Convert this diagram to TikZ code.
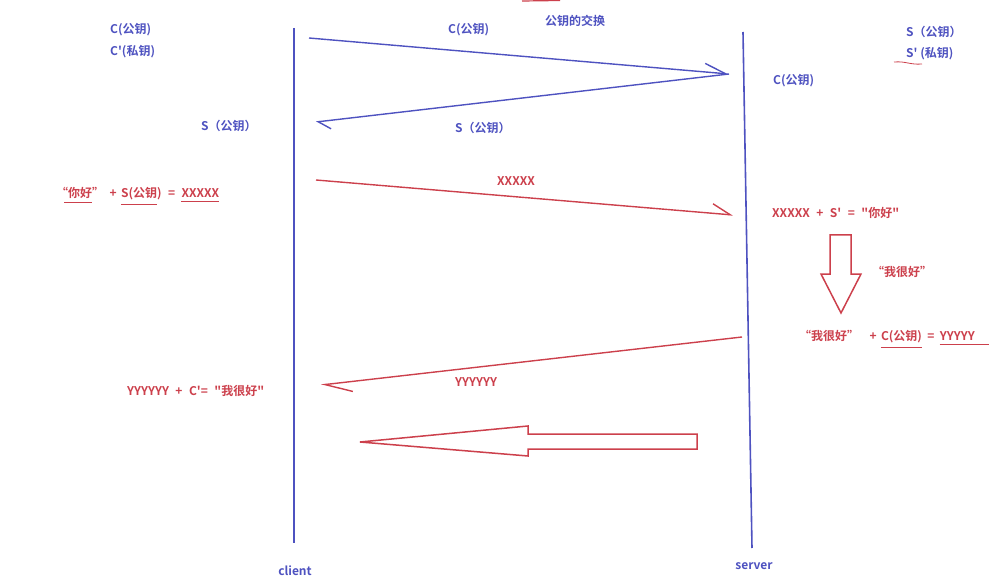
\documentclass[tikz,border=0pt]{standalone}
\usepackage{fontspec}
\setmainfont{Noto Sans CJK SC}[BoldFont={Noto Sans CJK SC Bold}, Ligatures=TeXOff]
\usepackage{xcolor}
\usetikzlibrary{arrows.meta, positioning}
\definecolor{keyblue}{RGB}{78,82,192}
\definecolor{msgred}{RGB}{204,64,76}

\begin{document}
\begin{tikzpicture}[x=1pt, y=-1pt, font=\fontsize{12}{14}\selectfont\bfseries,
    bluetxt/.style={text=keyblue, inner sep=0pt, anchor=west},
    redtxt/.style={text=msgred, inner sep=0pt, anchor=west},
    widegaps/.style={execute at begin node={\spaceskip=6.5pt\relax}},
    lifeline/.style={draw=keyblue, line width=1.6pt},
    bluemsg/.style={draw=keyblue, line width=1.4pt},
    redmsg/.style={draw=msgred, line width=1.4pt},
    uline/.style={draw=msgred, line width=0.8pt},
    fatarrow/.style={draw=msgred, line width=1.5pt, line join=miter}]
    \useasboundingbox (0,0) rectangle (989,583);

    \coordinate (ctop) at (294,28);
    \coordinate (cbot) at (294,543);
    \coordinate (stop) at (743,32);
    \coordinate (sbot) at (752,548);
    \draw [lifeline] (ctop) -- (cbot);
    \draw [lifeline] (stop) -- (sbot);
    \node [text=keyblue] (client) at (295,571) {client};
    \node [text=keyblue] (server) at (754,566) {server};

    \node [bluetxt] (cpub) at (110,30) {C(公钥)};
    \node [bluetxt, below=9pt of cpub.south west, anchor=north west] (cpriv) {C'(私钥)};
    \node [bluetxt] (title) at (545,21) {公钥的交换};
    \draw [msgred, line width=1.2pt] (522,1) -- (560,0.5);
    \node [bluetxt] (cpubmsg) at (448,30) {C(公钥)};
    \node [bluetxt] (spub) at (906,32) {S（公钥）};
    \node [bluetxt] (spriv) at (906,54) {S' (私钥)};
    \draw [uline] (894,62) .. controls (906,61) and (910,65) .. (922,64);
    \node [bluetxt] (cpubsrv) at (773,81) {C(公钥)};
    \node [bluetxt] (spubcli) at (201,126) {S（公钥）};
    \node [bluetxt] (spubmsg) at (455,128) {S（公钥）};

    \coordinate (c1) at (309,38);
    \coordinate (s1) at (729,74);
    \coordinate (c2) at (316,122);
    \draw [bluemsg, -{Straight Barb[harpoon, length=21pt, width=17pt]}] (c1) -- (s1);
    \draw [bluemsg, -{Straight Barb[harpoon, length=12pt, width=17pt]}] (s1) -- (c2);

    \node [redtxt] (nihao) at (56,193) {“你好”};
    \node [redtxt, base right=5pt of nihao] (plusa) {+};
    \node [redtxt, base right=4pt of plusa] (spubf) {S(公钥)};
    \node [redtxt, base right=6pt of spubf] (eqa) {=};
    \node [redtxt, base right=6pt of eqa] (xres) {XXXXX};
    \draw [uline] ([yshift=-4pt]nihao.south west) ++(8,0) -- ++(28,0);
    \draw [uline] ([yshift=-4pt]spubf.south west) -- ++(36,0);
    \draw [uline] ([yshift=-4pt]xres.south west) -- ([yshift=-4pt]xres.south east);

    \coordinate (c3) at (316,180);
    \coordinate (s3) at (733,215);
    \draw [redmsg, -{Straight Barb[harpoon, length=18pt, width=19pt]}] (c3) -- (s3);
    \node [redtxt] (xmsg) at (497,181) {XXXXX};
    \node [redtxt, widegaps] (decrypt) at (772,213) {XXXXX + S' = "你好"};

    \draw [fatarrow] (830,235) -- (851,235) -- (851,274) -- (861,274) -- (841,313)
        -- (821,274) -- (830,274) -- cycle;
    \node [redtxt] (reply) at (872,272) {“我很好”};

    \node [redtxt] (henhao) at (799,336) {“我很好”};
    \node [redtxt, base right=10pt of henhao] (plusb) {+};
    \node [redtxt, base right=4pt of plusb] (cpubf) {C(公钥)};
    \node [redtxt, base right=5pt of cpubf] (eqb) {=};
    \node [redtxt, base right=5pt of eqb] (yres) {YYYYY};
    \draw [uline] ([yshift=-4pt]cpubf.south west) -- ([yshift=-4pt]cpubf.south east);
    \draw [uline] ([yshift=-4pt]yres.south west) -- ++(50,0);

    \coordinate (s4) at (742,337);
    \coordinate (c4) at (321,385);
    \draw [redmsg, -{Straight Barb[harpoon, length=27pt, width=20pt]}] (s4) -- (c4);
    \node [redtxt] (ymsg) at (455,382) {YYYYYY};
    \node [redtxt, widegaps] (verify) at (127,391) {YYYYYY + C'= "我很好"};

    \draw [fatarrow] (697,434) -- (528,434) -- (528,426) -- (360,442) -- (528,456)
        -- (528,449) -- (697,449) -- cycle;
\end{tikzpicture}
\end{document}
